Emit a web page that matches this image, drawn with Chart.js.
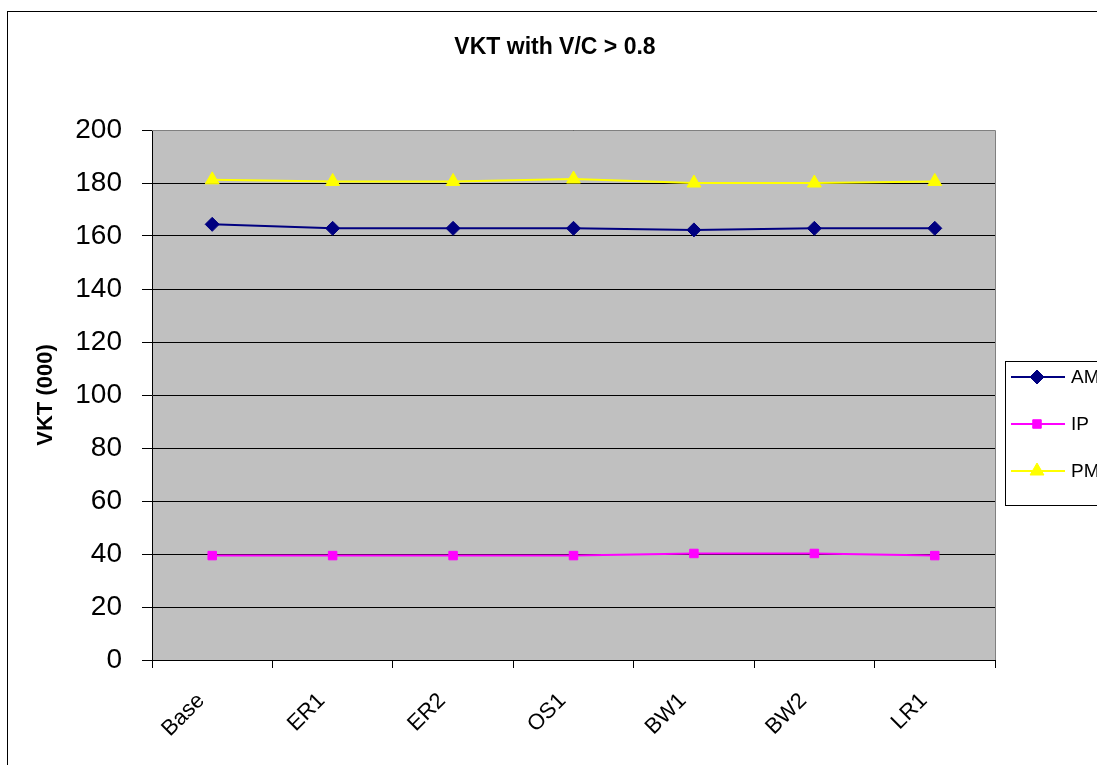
<!DOCTYPE html>
<html>
<head>
<meta charset="utf-8">
<script src="https://cdn.jsdelivr.net/npm/chart.js@4/dist/chart.umd.min.js"></script>
<style>
  html, body { margin: 0; padding: 0; background: #fff; }
  #wrap { width: 1097px; height: 765px; position: relative; }
</style>
</head>
<body>
<div id="wrap"><canvas id="myChart"></canvas></div>
<script>
const scenarios = ['Base', 'ER1', 'ER2', 'OS1', 'BW1', 'BW2', 'LR1'];
const amValues = [164.4, 162.9, 162.9, 162.9, 162.3, 162.9, 162.9];
const ipValues = [39.4, 39.4, 39.4, 39.4, 40.2, 40.2, 39.4];
const pmValues = [181.2, 180.6, 180.6, 181.5, 180.0, 180.0, 180.6];
const chartTitle = 'VKT with V/C > 0.8';

const fontName = '"Liberation Sans", Arial, sans-serif';

// outer frame, grey plot area, plot border, title
const backdrop = {
    id: 'backdrop',
    beforeDraw(chart) {
        const ctx = chart.ctx;
        const a = chart.chartArea;
        ctx.save();
        ctx.strokeStyle = '#000';
        ctx.lineWidth = 1;
        ctx.strokeRect(7.5, 11.5, 1300, 900);
        ctx.fillStyle = '#C0C0C0';
        ctx.fillRect(a.left, a.top, a.right - a.left, a.bottom - a.top);
        ctx.fillStyle = '#000';
        ctx.font = 'bold 23px ' + fontName;
        ctx.textAlign = 'center';
        ctx.textBaseline = 'middle';
        ctx.fillText(chartTitle, 555, 48);
        ctx.restore();
    },
    afterDatasetsDraw(chart) {
        const ctx = chart.ctx;
        const a = chart.chartArea;
        ctx.save();
        ctx.strokeStyle = '#808080';
        ctx.lineWidth = 1;
        ctx.beginPath();
        ctx.moveTo(a.left, a.top + 0.5);
        ctx.lineTo(a.right + 0.5, a.top + 0.5);
        ctx.lineTo(a.right + 0.5, a.bottom);
        ctx.stroke();
        ctx.restore();
    }
};

// legend box on the right, drawn from the datasets
const sideLegend = {
    id: 'sideLegend',
    afterDraw(chart) {
        const ctx = chart.ctx;
        ctx.save();
        ctx.fillStyle = '#fff';
        ctx.fillRect(1005, 361, 120, 144);
        ctx.strokeStyle = '#000';
        ctx.lineWidth = 1;
        ctx.strokeRect(1005.5, 361.5, 120, 144);
        const rows = [377, 424, 471];
        chart.data.datasets.forEach((ds, i) => {
            const y = rows[i];
            ctx.strokeStyle = ds.borderColor;
            ctx.lineWidth = 2;
            ctx.beginPath();
            ctx.moveTo(1011, y);
            ctx.lineTo(1065, y);
            ctx.stroke();
            ctx.fillStyle = ds.borderColor;
            ctx.lineWidth = 1;
            Chart.helpers.drawPoint(ctx, {
                pointStyle: ds.pointStyle,
                radius: ds.pointRadius,
                borderWidth: 1
            }, 1037, y);
            ctx.fillStyle = '#000';
            ctx.font = '19px ' + fontName;
            ctx.textAlign = 'left';
            ctx.textBaseline = 'middle';
            ctx.fillText(ds.label, 1071, y + 1);
        });
        ctx.restore();
    }
};

const chart = new Chart(document.getElementById('myChart').getContext('2d'), {
    type: 'line',
    data: {
        labels: scenarios,
        datasets: [
            {
                label: 'AM',
                data: amValues,
                borderColor: '#000080',
                backgroundColor: '#000080',
                borderWidth: 2,
                pointStyle: 'rectRot',
                pointRadius: 7,
                pointBorderWidth: 1
            },
            {
                label: 'IP',
                data: ipValues,
                borderColor: '#FF00FF',
                backgroundColor: '#FF00FF',
                borderWidth: 2,
                pointStyle: 'rect',
                pointRadius: 6,
                pointBorderWidth: 1
            },
            {
                label: 'PM',
                data: pmValues,
                borderColor: '#FFFF00',
                backgroundColor: '#FFFF00',
                borderWidth: 2,
                pointStyle: 'triangle',
                pointRadius: 8,
                pointBorderWidth: 1
            }
        ]
    },
    options: {
        responsive: true,
        maintainAspectRatio: false,
        animation: false,
        layout: { padding: { left: 0, right: 102, top: 130, bottom: 0 } },
        plugins: {
            legend: { display: false },
            tooltip: { enabled: false },
            title: { display: false }
        },
        scales: {
            x: {
                offset: true,
                grid: {
                    offset: true,
                    drawOnChartArea: false,
                    drawTicks: true,
                    tickLength: 8,
                    color: '#000'
                },
                border: { color: '#000', width: 1 },
                ticks: {
                    color: '#000',
                    font: { family: fontName, size: 22 },
                    minRotation: 45,
                    maxRotation: 45,
                    padding: 20,
                    labelOffset: -11
                },
                afterFit(scale) { scale.height = 105; }
            },
            y: {
                min: 0,
                max: 200,
                ticks: {
                    stepSize: 20,
                    color: '#000',
                    font: { family: fontName, size: 28 },
                    padding: 20
                },
                grid: {
                    color: '#000',
                    tickLength: 10,
                    drawTicks: true
                },
                border: { color: '#000', width: 1 },
                title: {
                    display: true,
                    text: 'VKT (000)',
                    color: '#000',
                    font: { family: fontName, size: 22, weight: 'bold' },
                    padding: { top: 33, bottom: 0 }
                },
                afterFit(scale) { scale.width = 152; }
            }
        }
    },
    plugins: [backdrop, sideLegend]
});
</script>
</body>
</html>
